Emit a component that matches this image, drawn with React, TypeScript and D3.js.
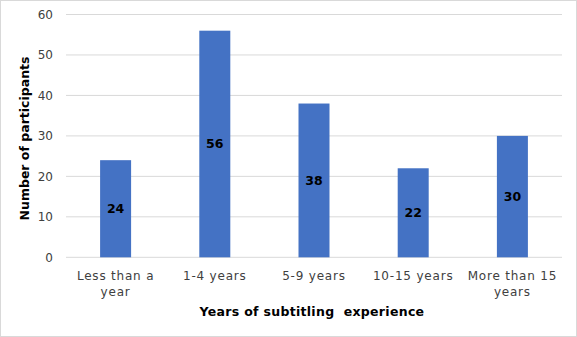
import React from "react";
import * as d3 from "d3";

const categories: string[][] = [
  ["Less than a", "year"],
  ["1-4 years"],
  ["5-9 years"],
  ["10-15 years"],
  ["More than 15", "years"],
];
const values: number[] = [24, 56, 38, 22, 30];
const yTicks: number[] = [0, 10, 20, 30, 40, 50, 60];
const yTitle = "Number of participants";
const xTitle = "Years of subtitling  experience";

const W = 577;
const H = 337;
const left = 66;
const right = 562;
const top = 14.5;
const bottom = 257.3;
const font = "Verdana, 'DejaVu Sans', sans-serif";

export default function App() {
  const x = d3
    .scaleBand<number>()
    .domain(values.map((_, i) => i))
    .range([left, right])
    .paddingInner(0.6875)
    .paddingOuter(0.34375);
  const y = d3.scaleLinear().domain([0, 60]).range([bottom, top]);
  const step = (right - left) / categories.length;
  const cx = (i: number) => left + step * (i + 0.5);
  const bw = 31;

  return (
    <svg
      width={W}
      height={H}
      style={{ position: "absolute", left: 0, top: 0, display: "block" }}
      fontFamily={font}
    >
      <rect x={0.5} y={0.5} width={W - 1} height={H - 1} fill="#fff" stroke="#d9d9d9" />
      {yTicks.map((t) => (
        <g key={t}>
          <line x1={left} x2={right} y1={y(t)} y2={y(t)} stroke="#d9d9d9" strokeWidth={1} />
          <text x={53} y={y(t)} dy="0.35em" textAnchor="end" fontSize={12} fill="#404040">
            {t}
          </text>
        </g>
      ))}
      {values.map((v, i) => (
        <g key={i}>
          <rect x={cx(i) - bw / 2} y={y(v)} width={bw} height={y(0) - y(v)} fill="#4472C4" />
          <text
            x={cx(i)}
            y={(y(v) + y(0)) / 2}
            dy="0.35em"
            textAnchor="middle"
            fontSize={12.5}
            fontWeight="bold"
            fill="#000"
          >
            {v}
          </text>
        </g>
      ))}
      {categories.map((lines, i) =>
        lines.map((ln, j) => (
          <text
            key={i + "-" + j}
            x={cx(i)}
            y={276 + j * 15.5}
            dy="0.35em"
            textAnchor="middle"
            fontSize={12}
            letterSpacing={0.8}
            fill="#404040"
          >
            {ln}
          </text>
        ))
      )}
      <text
        x={312}
        y={311.5}
        dy="0.35em"
        textAnchor="middle"
        fontSize={12.5}
        fontWeight="bold"
        letterSpacing={0.3}
        fill="#000"
        style={{ whiteSpace: "pre" }}
      >
        {xTitle}
      </text>
      <text
        transform={`translate(25,138.5) rotate(-90)`}
        dy="0.35em"
        textAnchor="middle"
        fontSize={12.5}
        fontWeight="bold"
        fill="#000"
      >
        {yTitle}
      </text>
    </svg>
  );
}
